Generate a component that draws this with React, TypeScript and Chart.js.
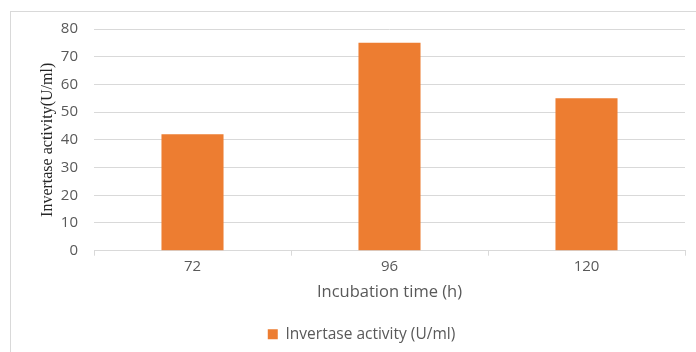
import React, { useEffect, useRef } from "react";
import { Chart, registerables } from "chart.js";

Chart.register(...registerables);

const categories = ["72", "96", "120"];
const activity = [42, 75, 55];
const seriesLabel = "Invertase activity (U/ml)";
const xTitle = "Incubation time (h)";
const yTitle = "Invertase activity(U/ml)";

export default function App() {
  const ref = useRef<HTMLCanvasElement | null>(null);
  useEffect(() => {
    document.body.style.margin = "0";
    const ctx = ref.current!;
    const chart = new Chart(ctx, {
      type: "bar",
      data: {
        labels: categories,
        datasets: [
          {
            label: seriesLabel,
            data: activity,
            backgroundColor: "#ED7D31",
            borderWidth: 0,
            categoryPercentage: 0.63,
            barPercentage: 0.5,
          },
        ],
      },
      options: {
        animation: false,
        responsive: false,
        maintainAspectRatio: false,
        layout: { padding: { left: 38, right: 11, top: 29, bottom: 0 } },
        plugins: {
          legend: {
            position: "bottom",
            labels: {
              boxWidth: 10,
              boxHeight: 10,
              color: "#595959",
              font: { family: "Open Sans", size: 15.5 },
              padding: 9,
            },
          },
          tooltip: { enabled: false },
        },
        scales: {
          x: {
            grid: {
              drawOnChartArea: false,
              drawTicks: true,
              tickLength: 5,
              color: "#d9d9d9",
              offset: true,
            },
            border: { color: "#d9d9d9", width: 1 },
            ticks: { color: "#595959", font: { family: "Open Sans", size: 15 }, padding: 2 },
            title: {
              display: true,
              text: xTitle,
              color: "#595959",
              font: { family: "Open Sans", size: 16.5 },
              padding: { top: 5, bottom: 15 },
            },
          },
          y: {
            min: 0,
            max: 80,
            ticks: {
              stepSize: 10,
              color: "#595959",
              font: { family: "Open Sans", size: 15 },
              padding: 16,
            },
            grid: { color: "#d9d9d9", drawTicks: false },
            border: { display: false },
            title: {
              display: true,
              text: yTitle,
              color: "#262626",
              font: { family: "Liberation Serif", size: 16 },
              padding: { top: 0, bottom: 4 },
            },
            afterFit: (s: any) => {
              s.width = 94 - 38;
            },
          },
        },
      },
    });
    return () => chart.destroy();
  }, []);
  return (
    <div style={{ position: "fixed", left: 0, top: 0, width: 696, height: 352, background: "#fff", overflow: "hidden" }}>
      <div
        style={{
          position: "absolute",
          left: 10,
          top: 11,
          width: 720,
          height: 400,
          border: "1px solid #d9d9d9",
          boxSizing: "border-box",
        }}
      />
      <canvas ref={ref} width={696} height={352} style={{ position: "absolute", left: 0, top: 0 }} />
    </div>
  );
}
